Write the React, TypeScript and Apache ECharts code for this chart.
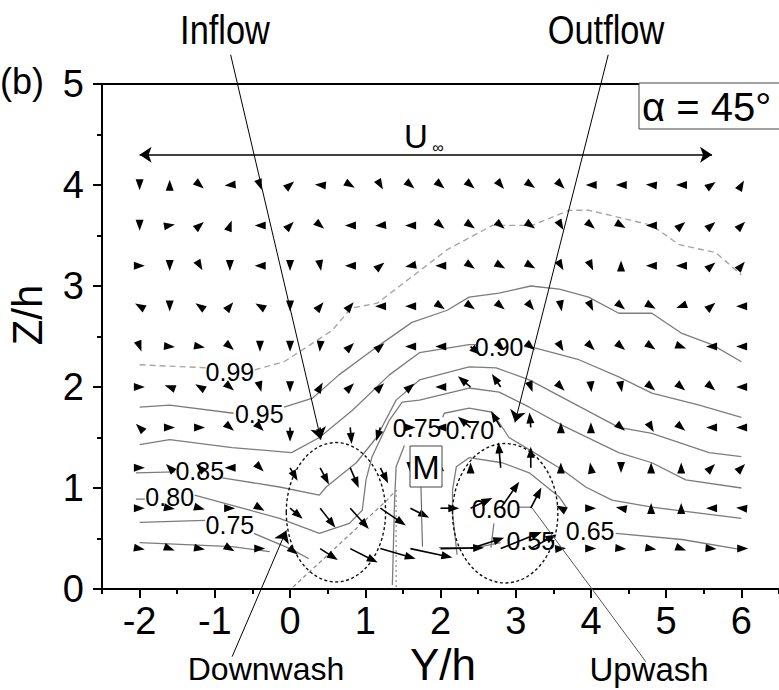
import React, { useEffect, useRef } from "react";
import * as echarts from "echarts";

const FONT = '"Liberation Sans", Arial, Helvetica, sans-serif';

// Measurement grid
const xCols = [-2, -1.6, -1.2, -0.8, -0.4, 0, 0.4, 0.8, 1.2, 1.6, 2, 2.4, 2.8, 3.2, 3.6, 4, 4.4, 4.8, 5.2, 5.6, 6];
const zRows = [4.0, 3.6, 3.2, 2.8, 2.4, 2.0, 1.6, 1.2, 0.8, 0.4];

// In-plane velocity direction (deg, 0 = +Y, 90 = +Z) for each row of zRows
const arrowAngles = [
  [270, 90, 320, 185, 290, 40, 175, 330, 300, 320, 320, 320, 310, 325, 315, 180, 180, 175, 180, 35, 60],
  [270, 10, 40, 70, 180, 45, 320, 180, 185, 180, 320, 325, 320, 325, 300, 320, 330, 180, 40, 40, 45],
  [0, 270, 300, 270, 180, 270, 280, 180, 40, 190, 180, 325, 330, 330, 300, 295, 90, 180, 180, 40, 50],
  [150, 270, 145, 50, 150, 270, 50, 50, 180, 180, 325, 325, 320, 310, 280, 295, 320, 330, 200, 40, 180],
  [290, 355, 350, 320, 270, 270, 265, 45, 40, 180, 180, 320, 315, 320, 300, 315, 320, 325, 340, 180, 180],
  [0, 160, 150, 320, 285, 270, 60, 45, 45, 40, 180, 140, 124, 290, 315, 275, 280, 320, 320, 320, 180],
  [135, 0, 0, 320, 315, 270, 270, 275, 253, 0, 180, 140, 121, 95, 90, 90, 320, 300, 320, 180, 180],
  [0, 135, 135, 180, 315, 300, 298, 293, 297, 270, 315, 90, 95, 90, 90, 100, 270, 90, 90, 45, 45],
  [0, 350, 345, 0, 330, 320, 308, 312, 326, 333, 0, 25, 55, 63, 150, 0, 170, 90, 90, 180, 175],
  [350, 340, 350, 330, 0, 323, 327, 333, 344, 348, 1, 18, 22, 29, 5, 0, 355, 350, 340, 355, 0],
];

// In-plane velocity magnitude (in Y/h length units) for each row of zRows
const arrowLengths = [
  [0.07, 0.07, 0.07, 0.07, 0.07, 0.07, 0.07, 0.07, 0.07, 0.07, 0.07, 0.07, 0.07, 0.07, 0.07, 0.07, 0.07, 0.07, 0.07, 0.07, 0.07],
  [0.07, 0.07, 0.07, 0.07, 0.07, 0.07, 0.07, 0.07, 0.07, 0.07, 0.07, 0.07, 0.07, 0.07, 0.07, 0.07, 0.07, 0.07, 0.07, 0.07, 0.07],
  [0.07, 0.07, 0.07, 0.07, 0.07, 0.07, 0.07, 0.07, 0.07, 0.07, 0.07, 0.07, 0.07, 0.07, 0.07, 0.07, 0.07, 0.07, 0.07, 0.07, 0.07],
  [0.07, 0.07, 0.07, 0.07, 0.07, 0.07, 0.07, 0.07, 0.07, 0.07, 0.07, 0.07, 0.07, 0.07, 0.07, 0.07, 0.07, 0.07, 0.07, 0.07, 0.07],
  [0.07, 0.07, 0.07, 0.07, 0.07, 0.07, 0.07, 0.07, 0.07, 0.07, 0.07, 0.17, 0.07, 0.07, 0.07, 0.07, 0.07, 0.07, 0.07, 0.07, 0.07],
  [0.07, 0.07, 0.07, 0.07, 0.07, 0.07, 0.07, 0.07, 0.07, 0.07, 0.07, 0.22, 0.21, 0.07, 0.07, 0.07, 0.07, 0.07, 0.07, 0.07, 0.07],
  [0.07, 0.07, 0.07, 0.07, 0.07, 0.19, 0.17, 0.22, 0.19, 0.07, 0.07, 0.22, 0.25, 0.2, 0.07, 0.07, 0.07, 0.07, 0.07, 0.07, 0.07],
  [0.07, 0.07, 0.07, 0.07, 0.07, 0.2, 0.25, 0.29, 0.23, 0.07, 0.07, 0.07, 0.34, 0.28, 0.07, 0.07, 0.07, 0.07, 0.07, 0.07, 0.07],
  [0.07, 0.07, 0.07, 0.07, 0.07, 0.22, 0.33, 0.37, 0.41, 0.28, 0.25, 0.32, 0.43, 0.31, 0.07, 0.07, 0.07, 0.07, 0.07, 0.07, 0.07],
  [0.07, 0.07, 0.07, 0.07, 0.07, 0.13, 0.28, 0.41, 0.49, 0.57, 0.58, 0.47, 0.59, 0.39, 0.07, 0.07, 0.07, 0.07, 0.07, 0.07, 0.09],
];

// Iso-velocity contours (U/U∞), each a list of segments of [Y/h, Z/h] points
const c099 = [
  [[-2.0, 2.22], [-1.11, 2.19]],
  [[-0.47, 2.17], [-0.08, 2.25], [0.56, 2.56], [0.81, 2.78], [1.16, 2.83], [2.09, 3.36], [2.69, 3.6], [3.22, 3.6], [3.71, 3.75], [3.97, 3.75], [4.37, 3.68], [4.81, 3.6], [5.17, 3.41], [5.66, 3.33], [6.0, 3.11]],
];
const c095 = [
  [[-2.0, 1.8], [-1.6, 1.82], [-0.75, 1.74]],
  [[-0.08, 1.8], [0.3, 1.89], [0.65, 2.12], [1.16, 2.4], [1.62, 2.64], [2.09, 2.76], [2.38, 2.89], [2.78, 2.93], [3.2, 3.0], [3.58, 2.97], [3.97, 2.89], [4.37, 2.73], [4.81, 2.73], [5.21, 2.53], [5.61, 2.42], [6.0, 2.25]],
];
const c090 = [
  [[-2.0, 1.43], [-1.6, 1.48], [-0.77, 1.4], [0.02, 1.35], [0.39, 1.5], [0.83, 1.77], [1.32, 2.12], [1.72, 2.34], [2.38, 2.42], [2.47, 2.42]],
  [[3.11, 2.4], [3.24, 2.39], [3.84, 2.27], [4.37, 2.1], [4.81, 1.94], [5.44, 1.82], [6.0, 1.7]],
];
const c085 = [
  [[-2.05, 1.15], [-1.53, 1.16]],
  [[-0.9, 1.1], [-0.14, 1.01], [0.39, 0.93], [0.48, 1.01], [0.88, 1.25], [1.15, 1.5], [1.41, 1.87], [1.72, 2.07], [2.38, 2.2], [2.74, 2.19], [3.18, 2.07], [4.37, 1.6], [4.81, 1.54], [5.57, 1.35], [6.0, 1.31]],
];
const c080 = [
  [[-2.05, 0.89], [-1.93, 0.89]],
  [[-1.27, 0.93], [-0.14, 0.7], [0.39, 0.55], [0.79, 0.65], [0.96, 0.78], [1.01, 1.08], [1.09, 1.31], [1.32, 1.67], [1.49, 1.85], [1.72, 1.87], [2.38, 1.99], [2.78, 1.95], [3.18, 1.8], [3.62, 1.62], [4.37, 1.35], [4.81, 1.25], [5.26, 1.08], [6.0, 1.0]],
];
const c075 = [
  [[-2.0, 0.66], [-1.13, 0.68]],
  [[-0.48, 0.55], [0.03, 0.39], [0.25, 0.3]],
  [[1.36, 0.04], [1.39, 0.88], [1.41, 1.21], [1.52, 1.42]],
  [[2.03, 1.7], [2.05, 1.74], [2.38, 1.79], [2.69, 1.75], [2.91, 1.5], [3.18, 1.38], [3.62, 1.18], [3.93, 1.01], [4.28, 0.88], [4.81, 0.81], [6.0, 0.7]],
];
const c070 = [[[-2.0, 0.46], [-0.77, 0.42], [-0.27, 0.37]]];
const c065 = [
  [[2.22, 0.34], [2.16, 0.75], [2.16, 0.98], [2.21, 1.21], [2.38, 1.3], [2.82, 1.25], [3.18, 1.15], [3.58, 0.91], [3.68, 0.8]],
  [[4.33, 0.55], [5.21, 0.49], [6.0, 0.39]],
];
const c060 = [
  [[3.04, 0.81], [3.22, 0.81]],
  [[2.71, 0.65], [2.67, 0.41]],
];
const c055 = [[[1.98, 0.41], [2.47, 0.41], [2.8, 0.46]]];
const solidContours = [c095, c090, c085, c080, c075, c070, c065, c060, c055];

const contourLabels = ["0.99", "0.95", "0.90", "0.85", "0.80", "0.75", "0.75", "0.70", "0.65", "0.60", "0.55"];
const contourLabelAt = [[-0.8, 2.15], [-0.41, 1.73], [2.78, 2.4], [-1.2, 1.17], [-1.6, 0.91], [-0.8, 0.63], [1.69, 1.59], [2.39, 1.57], [3.99, 0.57], [2.74, 0.79], [3.2, 0.48]];

// Building outline (rotated 45°)
const buildingDiag = [[0.04, 0.02], [1.29, 0.88], [1.41, 0.98]];
const buildingEdge = [[1.41, 0.98], [1.41, 0.0]];

// Dashed ellipses: [centerY, centerZ, radiusY, radiusZ]
const vortexEllipses = [[0.61, 0.76, 0.66, 0.69], [2.86, 0.75, 0.7, 0.69]];

// Annotation pointers
const pointersWithHead = [
  [[-0.79, 5.29], [0.41, 1.48]], // Inflow
  [[4.23, 5.29], [2.99, 1.65]], // Outflow
  [[-0.77, -0.67], [-0.05, 0.58]], // Downwash
];
const pointersPlain = [
  [[4.73, -0.72], [3.22, 0.8]], // Upwash
  [[1.74, 1.01], [1.76, 0.42]], // M
];
const freeStream = [[-2.0, 4.3], [5.61, 4.3]];

const xMajor = [-2, -1, 0, 1, 2, 3, 4, 5, 6];
const xMinor = [-2.5, -1.5, -0.5, 0.5, 1.5, 2.5, 3.5, 4.5, 5.5, 6.5];

export default function App() {
  const ref = useRef<HTMLDivElement>(null);
  useEffect(() => {
    const chart = echarts.init(ref.current!, null, { renderer: "svg" });

    const arrowData: number[][] = [];
    zRows.forEach((z, r) => {
      xCols.forEach((x, c) => {
        arrowData.push([x, z, arrowAngles[r][c], arrowLengths[r][c]]);
      });
    });

    const lineSeries: any[] = [];
    c099.forEach((seg) =>
      lineSeries.push({
        type: "line", data: seg, symbol: "none", silent: true, z: 2,
        lineStyle: { color: "#a6a6a6", width: 1.4, type: [6, 4] },
      })
    );
    solidContours.forEach((cont) =>
      cont.forEach((seg) =>
        lineSeries.push({
          type: "line", data: seg, symbol: "none", silent: true, z: 2,
          lineStyle: { color: "#7c7c7c", width: 1.3 },
        })
      )
    );
    lineSeries.push({
      type: "line", data: buildingDiag, symbol: "none", silent: true, z: 2,
      lineStyle: { color: "#8c8c8c", width: 1.2, type: [4, 3] },
    });
    lineSeries.push({
      type: "line", data: buildingEdge, symbol: "none", silent: true, z: 2,
      lineStyle: { color: "#8c8c8c", width: 1.2, type: [2, 3] },
    });

    const axisColor = "#000";
    const option: any = {
      animation: false,
      backgroundColor: "#fff",
      grid: { left: 102, top: 84, width: 678, height: 505 },
      xAxis: [
        {
          type: "value", min: -2.5, max: 6.5, position: "bottom",
          axisLine: { show: true, onZero: false, lineStyle: { color: axisColor, width: 2 } },
          axisTick: { show: true, length: 9, customValues: xMajor, lineStyle: { color: axisColor, width: 2 } },
          axisLabel: { customValues: xMajor, fontSize: 38, color: "#000", fontFamily: FONT, margin: 13 },
          splitLine: { show: false },
        },
        {
          type: "value", min: -2.5, max: 6.5, position: "bottom",
          axisLine: { show: false, onZero: false },
          axisTick: { show: true, length: 5, customValues: xMinor, lineStyle: { color: axisColor, width: 2 } },
          axisLabel: { show: false },
          splitLine: { show: false },
        },
        {
          type: "value", min: -2.5, max: 6.5, position: "top",
          axisLine: { show: true, onZero: false, lineStyle: { color: axisColor, width: 2 } },
          axisTick: { show: false }, axisLabel: { show: false }, splitLine: { show: false },
        },
      ],
      yAxis: [
        {
          type: "value", min: 0, max: 5, interval: 1, position: "left",
          axisLine: { show: true, onZero: false, lineStyle: { color: axisColor, width: 2 } },
          axisTick: { show: true, length: 9, lineStyle: { color: axisColor, width: 2 } },
          minorTick: { show: true, splitNumber: 2, length: 5, lineStyle: { color: axisColor, width: 2 } },
          axisLabel: { fontSize: 38, color: "#000", fontFamily: FONT, margin: 18 },
          splitLine: { show: false },
        },
      ],
      series: [
        ...lineSeries,
        {
          type: "custom", silent: true, z: 3,
          data: vortexEllipses,
          renderItem: (params: any, api: any) => {
            const c = api.coord([api.value(0), api.value(1)]);
            const sz = api.size([api.value(2), api.value(3)]);
            return {
              type: "ellipse",
              shape: { cx: c[0], cy: c[1], rx: sz[0], ry: sz[1] },
              style: { fill: "none", stroke: "#111", lineWidth: 1.4, lineDash: [3, 2.5] },
            };
          },
        },
        {
          type: "custom", silent: true, z: 5,
          data: arrowData,
          renderItem: (params: any, api: any) => {
            const p = api.coord([api.value(0), api.value(1)]);
            const ang = (api.value(2) * Math.PI) / 180;
            const ppu = api.size([1, 0])[0];
            const L = api.value(3) * ppu;
            const dx = Math.cos(ang);
            const dy = -Math.sin(ang);
            const tip = [p[0] + dx * L, p[1] + dy * L];
            const H = 11;
            const W = 4;
            const base = [tip[0] - dx * H, tip[1] - dy * H];
            const children: any[] = [];
            if (L > H) {
              children.push({
                type: "line",
                shape: { x1: p[0], y1: p[1], x2: base[0] + dx, y2: base[1] + dy },
                style: { stroke: "#000", lineWidth: 1.6 },
              });
            }
            children.push({
              type: "polygon",
              shape: {
                points: [
                  tip,
                  [base[0] - dy * W, base[1] + dx * W],
                  [base[0] + dy * W, base[1] - dx * W],
                ],
              },
              style: { fill: "#000" },
            });
            return { type: "group", children };
          },
        },
        {
          type: "custom", silent: true, z: 6,
          data: contourLabelAt,
          renderItem: (params: any, api: any) => {
            const c = api.coord([api.value(0), api.value(1)]);
            return {
              type: "text",
              x: c[0], y: c[1],
              style: {
                text: contourLabels[params.dataIndex],
                fontSize: 25, fontFamily: FONT, fill: "#000",
                align: "center", verticalAlign: "middle",
              },
            };
          },
        },
        {
          type: "lines", coordinateSystem: "cartesian2d", silent: true, z: 7, clip: false,
          symbol: ["none", "arrow"], symbolSize: 12,
          lineStyle: { color: "#000", width: 1, opacity: 1 },
          data: pointersWithHead.map((c) => ({ coords: c })),
        },
        {
          type: "lines", coordinateSystem: "cartesian2d", silent: true, z: 7, clip: false,
          symbol: ["none", "none"],
          lineStyle: { color: "#555", width: 1, opacity: 1 },
          data: pointersPlain.map((c) => ({ coords: c })),
        },
        {
          type: "lines", coordinateSystem: "cartesian2d", silent: true, z: 7, clip: false,
          symbol: ["arrow", "arrow"], symbolSize: 12,
          lineStyle: { color: "#000", width: 1.6, opacity: 1 },
          data: [{ coords: freeStream }],
        },
      ],
      graphic: [
        { type: "text", x: 22, y: 81, z: 10, style: { text: "(b)", fontSize: 36, fontFamily: FONT, fill: "#000", align: "center", verticalAlign: "middle" } },
        { type: "text", x: 225, y: 30, scaleX: 0.86, z: 10, style: { text: "Inflow", fontSize: 40, fontFamily: FONT, fill: "#000", align: "center", verticalAlign: "middle" } },
        { type: "text", x: 606, y: 30, scaleX: 0.86, z: 10, style: { text: "Outflow", fontSize: 40, fontFamily: FONT, fill: "#000", align: "center", verticalAlign: "middle" } },
        { type: "text", x: 416, y: 136, z: 10, style: { text: "U", fontSize: 33, fontFamily: FONT, fill: "#000", align: "center", verticalAlign: "middle" } },
        { type: "text", x: 438, y: 147, z: 10, style: { text: "∞", fontSize: 16, fontFamily: FONT, fill: "#000", align: "center", verticalAlign: "middle" } },
        { type: "rect", z: 10, shape: { x: 639, y: 83, width: 150, height: 46 }, style: { fill: "#fff", stroke: "#444", lineWidth: 1 } },
        { type: "text", x: 642, y: 107, z: 11, style: { text: "α = 45°", fontSize: 40, fontFamily: FONT, fill: "#000", align: "left", verticalAlign: "middle" } },
        { type: "rect", z: 10, shape: { x: 410, y: 446, width: 32, height: 41 }, style: { fill: "#fff", stroke: "#444", lineWidth: 1 } },
        { type: "text", x: 426, y: 467, z: 11, style: { text: "M", fontSize: 33, fontFamily: FONT, fill: "#000", align: "center", verticalAlign: "middle" } },
        { type: "text", x: 27, y: 315, rotation: Math.PI / 2, z: 10, style: { text: "Z/h", fontSize: 42, fontFamily: FONT, fill: "#000", align: "center", verticalAlign: "middle" } },
        { type: "text", x: 443, y: 664, z: 10, style: { text: "Y/h", fontSize: 44, fontFamily: FONT, fill: "#000", align: "center", verticalAlign: "middle" } },
        { type: "text", x: 266, y: 669, z: 10, style: { text: "Downwash", fontSize: 32, fontFamily: FONT, fill: "#000", align: "center", verticalAlign: "middle" } },
        { type: "text", x: 649, y: 669, z: 10, style: { text: "Upwash", fontSize: 33, fontFamily: FONT, fill: "#000", align: "center", verticalAlign: "middle" } },
      ],
    };
    chart.setOption(option);
    return () => chart.dispose();
  }, []);
  return (
    <div
      ref={ref}
      style={{ position: "fixed", left: 0, top: 0, width: 779, height: 690, background: "#fff" }}
    />
  );
}
